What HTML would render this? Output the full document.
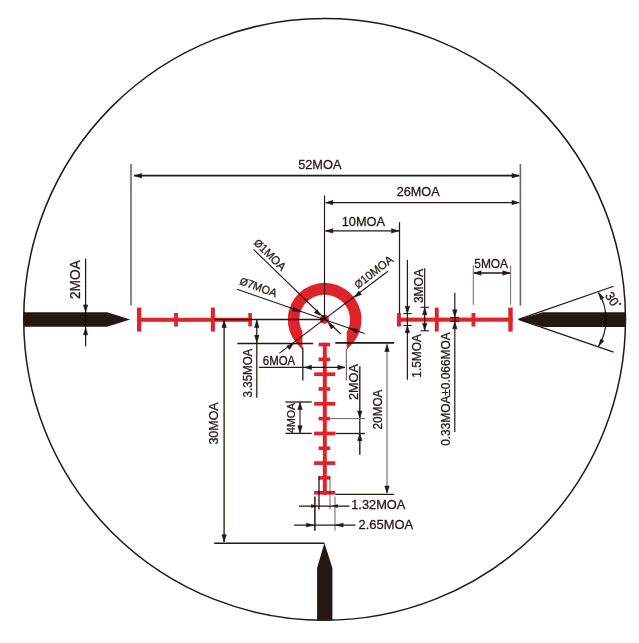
<!DOCTYPE html>
<html><head><meta charset="utf-8"><style>
html,body{margin:0;padding:0;background:#fff;}
svg{display:block;will-change:transform;}
text{font-family:"Liberation Sans",sans-serif;}
</style></head><body>
<svg width="639" height="643" viewBox="0 0 639 643">
<rect width="639" height="643" fill="#fff"/>
<circle cx="324.6" cy="319.4" r="300.9" fill="none" stroke="#231815" stroke-width="1.5"/>
<polygon points="23.60,312.30 107.20,312.30 130.20,319.50 107.20,326.80 23.60,326.80" fill="#231815"/>
<polygon points="625.60,312.30 542.90,312.30 518.50,319.40 542.90,326.90 625.60,326.90" fill="#231815"/>
<polygon points="317.10,620.30 317.10,568.10 324.40,543.10 332.40,568.10 332.40,620.30" fill="#231815"/>
<path d="M302.40,349.80 L296.17,343.00 A36.9,36.8 0 1 1 353.13,343.00 L346.70,349.80 L346.70,331.91 A25.4,24.8 0 1 0 302.40,331.56 Z" fill="#e0232a"/>
<circle cx="324.4" cy="319.3" r="4.5" fill="#e0232a"/>
<rect x="137.00" y="317.80" width="115.00" height="4.00" fill="#e0232a"/>
<rect x="137.00" y="307.60" width="4.30" height="24.00" fill="#e0232a"/>
<rect x="174.10" y="313.00" width="3.80" height="13.50" fill="#e0232a"/>
<rect x="210.80" y="307.60" width="4.10" height="24.00" fill="#e0232a"/>
<rect x="248.30" y="313.00" width="3.60" height="13.50" fill="#e0232a"/>
<rect x="397.00" y="313.00" width="3.90" height="13.50" fill="#e0232a"/>
<rect x="434.80" y="307.60" width="3.90" height="24.00" fill="#e0232a"/>
<rect x="471.50" y="313.00" width="3.90" height="13.50" fill="#e0232a"/>
<rect x="508.30" y="307.60" width="4.40" height="24.00" fill="#e0232a"/>
<rect x="397.00" y="317.60" width="115.60" height="4.10" fill="#e0232a"/>
<rect x="322.80" y="342.70" width="4.00" height="152.20" fill="#e0232a"/>
<rect x="318.60" y="342.70" width="11.60" height="3.60" fill="#e0232a"/>
<rect x="318.60" y="357.52" width="11.60" height="3.60" fill="#e0232a"/>
<rect x="314.10" y="372.34" width="21.20" height="3.70" fill="#e0232a"/>
<rect x="318.60" y="387.16" width="11.60" height="3.60" fill="#e0232a"/>
<rect x="314.10" y="401.98" width="21.20" height="3.70" fill="#e0232a"/>
<rect x="318.60" y="416.80" width="11.60" height="3.60" fill="#e0232a"/>
<rect x="314.10" y="431.62" width="21.20" height="3.70" fill="#e0232a"/>
<rect x="318.60" y="446.44" width="11.60" height="3.60" fill="#e0232a"/>
<rect x="314.10" y="461.26" width="21.20" height="3.70" fill="#e0232a"/>
<rect x="318.60" y="476.08" width="11.60" height="3.60" fill="#e0232a"/>
<rect x="314.10" y="490.90" width="21.20" height="3.70" fill="#e0232a"/>
<g style="mix-blend-mode:multiply">
<line x1="131.00" y1="164.00" x2="131.00" y2="305.50" stroke="#6e6767" stroke-width="1.6"/>
<line x1="520.40" y1="164.00" x2="520.40" y2="305.60" stroke="#6e6767" stroke-width="1.6"/>
<line x1="134.00" y1="175.70" x2="519.30" y2="175.70" stroke="#231815" stroke-width="1.7"/>
<polygon points="134.65,175.70 141.55,173.50 141.55,177.90" fill="#231815" stroke="#231815" stroke-width="0.6" stroke-linejoin="round"/>
<polygon points="518.95,175.70 512.05,177.90 512.05,173.50" fill="#231815" stroke="#231815" stroke-width="0.6" stroke-linejoin="round"/>
<text transform="translate(298.65,169.05) rotate(0) scale(1,1.04)" x="-0.51" y="0" font-size="12.78" textLength="43.34" lengthAdjust="spacingAndGlyphs" fill="#231815" stroke="#231815" stroke-width="0.28">52MOA</text>
<line x1="325.50" y1="202.60" x2="519.30" y2="202.60" stroke="#231815" stroke-width="1.3"/>
<polygon points="325.85,202.60 332.75,200.40 332.75,204.80" fill="#231815" stroke="#231815" stroke-width="0.6" stroke-linejoin="round"/>
<polygon points="518.95,202.60 512.05,204.80 512.05,200.40" fill="#231815" stroke="#231815" stroke-width="0.6" stroke-linejoin="round"/>
<text transform="translate(397.35,196.25) rotate(0) scale(1,1.04)" x="-0.64" y="0" font-size="12.64" textLength="42.86" lengthAdjust="spacingAndGlyphs" fill="#231815" stroke="#231815" stroke-width="0.28">26MOA</text>
<line x1="324.50" y1="195.40" x2="324.50" y2="319.40" stroke="#231815" stroke-width="1.15"/>
<line x1="325.50" y1="230.90" x2="399.00" y2="230.90" stroke="#231815" stroke-width="1.3"/>
<polygon points="325.85,230.90 332.75,228.70 332.75,233.10" fill="#231815" stroke="#231815" stroke-width="0.6" stroke-linejoin="round"/>
<polygon points="398.45,230.90 391.55,233.10 391.55,228.70" fill="#231815" stroke="#231815" stroke-width="0.6" stroke-linejoin="round"/>
<text transform="translate(342.65,226.35) rotate(0) scale(1,1.04)" x="-0.97" y="0" font-size="12.77" textLength="43.30" lengthAdjust="spacingAndGlyphs" fill="#231815" stroke="#231815" stroke-width="0.28">10MOA</text>
<line x1="399.50" y1="222.20" x2="399.50" y2="313.60" stroke="#231815" stroke-width="1.25"/>
<line x1="214.00" y1="319.50" x2="324.40" y2="319.50" stroke="#231815" stroke-width="1.3"/>
<line x1="224.10" y1="319.70" x2="224.10" y2="542.10" stroke="#231815" stroke-width="1.3"/>
<polygon points="224.10,320.55 226.30,327.45 221.90,327.45" fill="#231815" stroke="#231815" stroke-width="0.6" stroke-linejoin="round"/>
<polygon points="224.10,541.75 221.90,534.85 226.30,534.85" fill="#231815" stroke="#231815" stroke-width="0.6" stroke-linejoin="round"/>
<text transform="translate(217.65,444.15) rotate(-90) scale(1,1.04)" x="-0.48" y="0" font-size="12.48" textLength="42.30" lengthAdjust="spacingAndGlyphs" fill="#231815" stroke="#231815" stroke-width="0.28">30MOA</text>
<line x1="214.20" y1="543.20" x2="324.40" y2="543.20" stroke="#231815" stroke-width="1.5"/>
<line x1="256.80" y1="319.90" x2="256.80" y2="397.80" stroke="#231815" stroke-width="1.25"/>
<polygon points="256.80,320.55 259.00,327.45 254.60,327.45" fill="#231815" stroke="#231815" stroke-width="0.6" stroke-linejoin="round"/>
<polygon points="256.80,342.25 254.60,335.35 259.00,335.35" fill="#231815" stroke="#231815" stroke-width="0.6" stroke-linejoin="round"/>
<line x1="237.30" y1="343.50" x2="313.10" y2="343.50" stroke="#231815" stroke-width="1.3"/>
<text transform="translate(252.15,396.95) rotate(-90) scale(1,1.04)" x="-0.44" y="0" font-size="11.52" textLength="48.66" lengthAdjust="spacingAndGlyphs" fill="#231815" stroke="#231815" stroke-width="0.28">3.35MOA</text>
<line x1="335.30" y1="342.90" x2="394.20" y2="342.90" stroke="#231815" stroke-width="1.6"/>
<line x1="258.90" y1="367.40" x2="345.10" y2="367.40" stroke="#231815" stroke-width="1.2"/>
<polygon points="304.55,367.40 311.45,365.20 311.45,369.60" fill="#231815" stroke="#231815" stroke-width="0.6" stroke-linejoin="round"/>
<polygon points="344.75,367.40 337.85,369.60 337.85,365.20" fill="#231815" stroke="#231815" stroke-width="0.6" stroke-linejoin="round"/>
<line x1="302.80" y1="347.60" x2="302.80" y2="380.50" stroke="#231815" stroke-width="1.3"/>
<line x1="346.40" y1="348.70" x2="346.40" y2="380.50" stroke="#6e6767" stroke-width="1.1"/>
<text transform="translate(263.35,365.05) rotate(0) scale(1,1.04)" x="-0.58" y="0" font-size="11.43" textLength="32.40" lengthAdjust="spacingAndGlyphs" fill="#231815" stroke="#231815" stroke-width="0.28">6MOA</text>
<line x1="279.20" y1="353.40" x2="387.90" y2="271.30" stroke="#231815" stroke-width="1.1"/>
<polygon points="293.62,343.51 289.47,349.45 286.80,345.95" fill="#231815" stroke="#231815" stroke-width="0.6" stroke-linejoin="round"/>
<polygon points="354.68,296.99 358.82,291.05 361.49,294.54" fill="#231815" stroke="#231815" stroke-width="0.6" stroke-linejoin="round"/>
<line x1="237.00" y1="289.20" x2="364.60" y2="333.60" stroke="#231815" stroke-width="1.1"/>
<polygon points="299.67,311.28 292.43,311.08 293.88,306.93" fill="#231815" stroke="#231815" stroke-width="0.6" stroke-linejoin="round"/>
<polygon points="350.43,328.72 357.67,328.94 356.21,333.09" fill="#231815" stroke="#231815" stroke-width="0.6" stroke-linejoin="round"/>
<line x1="253.50" y1="249.30" x2="340.70" y2="334.00" stroke="#231815" stroke-width="1.1"/>
<polygon points="319.95,315.25 314.29,312.58 317.25,309.60" fill="#231815" stroke="#231815" stroke-width="0.6" stroke-linejoin="round"/>
<polygon points="328.46,323.54 334.24,325.94 331.42,329.05" fill="#231815" stroke="#231815" stroke-width="0.6" stroke-linejoin="round"/>
<line x1="359.80" y1="366.20" x2="359.80" y2="454.70" stroke="#231815" stroke-width="1.35"/>
<polygon points="359.80,417.95 357.60,411.05 362.00,411.05" fill="#231815" stroke="#231815" stroke-width="0.6" stroke-linejoin="round"/>
<polygon points="359.80,433.75 362.00,440.65 357.60,440.65" fill="#231815" stroke="#231815" stroke-width="0.6" stroke-linejoin="round"/>
<line x1="330.50" y1="418.60" x2="365.00" y2="418.60" stroke="#6e6767" stroke-width="1.0"/>
<line x1="335.50" y1="433.50" x2="365.00" y2="433.50" stroke="#231815" stroke-width="1.3"/>
<text transform="translate(357.75,399.45) rotate(-90) scale(1,1.04)" x="-0.64" y="0" font-size="12.69" textLength="35.96" lengthAdjust="spacingAndGlyphs" fill="#231815" stroke="#231815" stroke-width="0.28">2MOA</text>
<line x1="387.00" y1="344.30" x2="387.00" y2="493.30" stroke="#6e6767" stroke-width="1.1"/>
<polygon points="387.00,344.65 389.20,351.55 384.80,351.55" fill="#231815" stroke="#231815" stroke-width="0.6" stroke-linejoin="round"/>
<polygon points="387.00,492.95 384.80,486.05 389.20,486.05" fill="#231815" stroke="#231815" stroke-width="0.6" stroke-linejoin="round"/>
<text transform="translate(381.85,428.85) rotate(-90) scale(1,1.04)" x="-0.59" y="0" font-size="11.74" textLength="39.81" lengthAdjust="spacingAndGlyphs" fill="#231815" stroke="#231815" stroke-width="0.28">20MOA</text>
<line x1="335.40" y1="494.30" x2="394.20" y2="494.30" stroke="#231815" stroke-width="1.3"/>
<line x1="285.50" y1="402.00" x2="311.80" y2="402.00" stroke="#231815" stroke-width="1.3"/>
<line x1="285.50" y1="433.40" x2="311.80" y2="433.40" stroke="#231815" stroke-width="1.3"/>
<line x1="300.00" y1="402.30" x2="300.00" y2="433.10" stroke="#231815" stroke-width="1.1"/>
<polygon points="300.00,402.65 302.20,409.55 297.80,409.55" fill="#231815" stroke="#231815" stroke-width="0.6" stroke-linejoin="round"/>
<polygon points="300.00,432.75 297.80,425.85 302.20,425.85" fill="#231815" stroke="#231815" stroke-width="0.6" stroke-linejoin="round"/>
<text transform="translate(294.85,432.65) rotate(-90) scale(1,1.04)" x="-0.24" y="0" font-size="10.61" textLength="30.06" lengthAdjust="spacingAndGlyphs" fill="#231815" stroke="#231815" stroke-width="0.28">4MOA</text>
<line x1="314.90" y1="496.50" x2="314.90" y2="530.70" stroke="#231815" stroke-width="1.5"/>
<line x1="319.00" y1="476.30" x2="319.00" y2="509.40" stroke="#231815" stroke-width="1.3"/>
<line x1="330.00" y1="476.30" x2="330.00" y2="509.40" stroke="#6e6767" stroke-width="1.0"/>
<line x1="335.00" y1="496.50" x2="335.00" y2="530.70" stroke="#6e6767" stroke-width="1.0"/>
<line x1="299.00" y1="506.10" x2="349.60" y2="506.10" stroke="#231815" stroke-width="1.1"/>
<polygon points="316.35,506.10 311.45,507.60 311.45,504.60" fill="#231815" stroke="#231815" stroke-width="0.6" stroke-linejoin="round"/>
<polygon points="332.75,506.10 337.65,504.60 337.65,507.60" fill="#231815" stroke="#231815" stroke-width="0.6" stroke-linejoin="round"/>
<line x1="294.20" y1="525.10" x2="355.50" y2="525.10" stroke="#231815" stroke-width="1.2"/>
<polygon points="313.85,525.10 306.45,526.90 306.45,523.30" fill="#231815" stroke="#231815" stroke-width="0.6" stroke-linejoin="round"/>
<polygon points="335.75,525.10 343.15,523.30 343.15,526.90" fill="#231815" stroke="#231815" stroke-width="0.6" stroke-linejoin="round"/>
<text transform="translate(352.15,508.85) rotate(0) scale(1,1.04)" x="-0.98" y="0" font-size="12.83" textLength="54.20" lengthAdjust="spacingAndGlyphs" fill="#231815" stroke="#231815" stroke-width="0.28">1.32MOA</text>
<text transform="translate(359.15,529.05) rotate(0) scale(1,1.04)" x="-0.65" y="0" font-size="12.92" textLength="54.58" lengthAdjust="spacingAndGlyphs" fill="#231815" stroke="#231815" stroke-width="0.28">2.65MOA</text>
<line x1="424.70" y1="268.20" x2="424.70" y2="331.10" stroke="#231815" stroke-width="1.2"/>
<polygon points="424.70,307.85 426.90,314.75 422.50,314.75" fill="#231815" stroke="#231815" stroke-width="0.6" stroke-linejoin="round"/>
<polygon points="424.70,330.25 422.50,323.35 426.90,323.35" fill="#231815" stroke="#231815" stroke-width="0.6" stroke-linejoin="round"/>
<line x1="420.50" y1="307.30" x2="428.90" y2="307.30" stroke="#231815" stroke-width="1.1"/>
<line x1="420.50" y1="330.80" x2="428.90" y2="330.80" stroke="#231815" stroke-width="1.1"/>
<text transform="translate(422.85,302.65) rotate(-90) scale(1,1.04)" x="-0.46" y="0" font-size="12.03" textLength="34.08" lengthAdjust="spacingAndGlyphs" fill="#231815" stroke="#231815" stroke-width="0.28">3MOA</text>
<line x1="407.40" y1="259.80" x2="407.40" y2="379.70" stroke="#231815" stroke-width="1.2"/>
<polygon points="407.40,313.25 405.20,306.35 409.60,306.35" fill="#231815" stroke="#231815" stroke-width="0.6" stroke-linejoin="round"/>
<polygon points="407.40,325.85 409.60,332.75 405.20,332.75" fill="#231815" stroke="#231815" stroke-width="0.6" stroke-linejoin="round"/>
<line x1="403.30" y1="313.60" x2="411.70" y2="313.60" stroke="#231815" stroke-width="1.1"/>
<line x1="403.30" y1="325.50" x2="411.70" y2="325.50" stroke="#231815" stroke-width="1.1"/>
<text transform="translate(420.95,376.75) rotate(-90) scale(1,1.04)" x="-0.90" y="0" font-size="11.87" textLength="43.53" lengthAdjust="spacingAndGlyphs" fill="#231815" stroke="#231815" stroke-width="0.28">1.5MOA</text>
<line x1="454.80" y1="292.70" x2="454.80" y2="431.90" stroke="#231815" stroke-width="1.2"/>
<polygon points="454.80,316.75 452.60,309.85 457.00,309.85" fill="#231815" stroke="#231815" stroke-width="0.6" stroke-linejoin="round"/>
<polygon points="454.80,321.95 457.00,328.85 452.60,328.85" fill="#231815" stroke="#231815" stroke-width="0.6" stroke-linejoin="round"/>
<line x1="450.40" y1="317.60" x2="459.20" y2="317.60" stroke="#231815" stroke-width="1.1"/>
<line x1="450.40" y1="321.30" x2="459.20" y2="321.30" stroke="#231815" stroke-width="1.1"/>
<text transform="translate(449.75,445.35) rotate(-90) scale(1,1.04)" x="-0.46" y="0" font-size="11.87" textLength="113.39" lengthAdjust="spacingAndGlyphs" fill="#231815" stroke="#231815" stroke-width="0.28">0.33MOA±0.066MOA</text>
<line x1="473.30" y1="265.60" x2="473.30" y2="304.80" stroke="#6e6767" stroke-width="1.0"/>
<line x1="510.60" y1="265.60" x2="510.60" y2="304.80" stroke="#6e6767" stroke-width="1.0"/>
<line x1="473.80" y1="273.00" x2="510.10" y2="273.00" stroke="#231815" stroke-width="1.3"/>
<polygon points="474.15,273.00 481.05,270.80 481.05,275.20" fill="#231815" stroke="#231815" stroke-width="0.6" stroke-linejoin="round"/>
<polygon points="509.75,273.00 502.85,275.20 502.85,270.80" fill="#231815" stroke="#231815" stroke-width="0.6" stroke-linejoin="round"/>
<text transform="translate(474.75,268.35) rotate(0) scale(1,1.04)" x="-0.48" y="0" font-size="11.93" textLength="33.80" lengthAdjust="spacingAndGlyphs" fill="#231815" stroke="#231815" stroke-width="0.28">5MOA</text>
<line x1="85.60" y1="258.50" x2="85.60" y2="346.40" stroke="#231815" stroke-width="1.25"/>
<polygon points="85.60,311.85 83.40,304.95 87.80,304.95" fill="#231815" stroke="#231815" stroke-width="0.6" stroke-linejoin="round"/>
<polygon points="85.60,327.95 87.80,334.85 83.40,334.85" fill="#231815" stroke="#231815" stroke-width="0.6" stroke-linejoin="round"/>
<text transform="translate(79.75,298.35) rotate(-90) scale(1,1.04)" x="-0.69" y="0" font-size="13.70" textLength="38.82" lengthAdjust="spacingAndGlyphs" fill="#231815" stroke="#231815" stroke-width="0.28">2MOA</text>
<line x1="518.50" y1="319.40" x2="613.60" y2="286.20" stroke="#231815" stroke-width="1.2"/>
<line x1="518.50" y1="319.40" x2="613.60" y2="352.10" stroke="#231815" stroke-width="1.2"/>
<path d="M598.5,292.5 A51.8,51.8 0 0 1 598.5,346.3" fill="none" stroke="#231815" stroke-width="1.2"/>
<polygon points="598.68,292.80 603.90,297.69 600.66,299.68" fill="#231815" stroke="#231815" stroke-width="0.6" stroke-linejoin="round"/>
<polygon points="598.68,346.00 600.66,339.12 603.90,341.11" fill="#231815" stroke="#231815" stroke-width="0.6" stroke-linejoin="round"/>
<text transform="translate(604.70,295.80) rotate(57) scale(1,1.04)" x="-0.48" y="0" font-size="12.60" textLength="13.97" lengthAdjust="spacingAndGlyphs" fill="#231815" stroke="#231815" stroke-width="0.28">30</text>
<circle cx="620.2" cy="303.9" r="1.1" fill="#231815"/>
<g transform="translate(253.50,243.80) rotate(45) scale(1,1.04)" fill="#231815" stroke="#231815" stroke-width="0.28"><text x="-0.35" y="0" font-size="10.08">Ø</text><text x="7.49" y="0" font-size="11.20">1MOA</text></g>
<g transform="translate(239.40,284.10) rotate(20.2) scale(1,1.04)" fill="#231815" stroke="#231815" stroke-width="0.28"><text x="-0.35" y="0" font-size="10.02">Ø</text><text x="7.45" y="0" font-size="10.89">7MOA</text></g>
<g transform="translate(358.30,288.90) rotate(-37.7) scale(1,1.04)" fill="#231815" stroke="#231815" stroke-width="0.28"><text x="-0.35" y="0" font-size="10.05">Ø</text><text x="7.47" y="0" font-size="11.17">10MOA</text></g>
</g>
</svg>
</body></html>
